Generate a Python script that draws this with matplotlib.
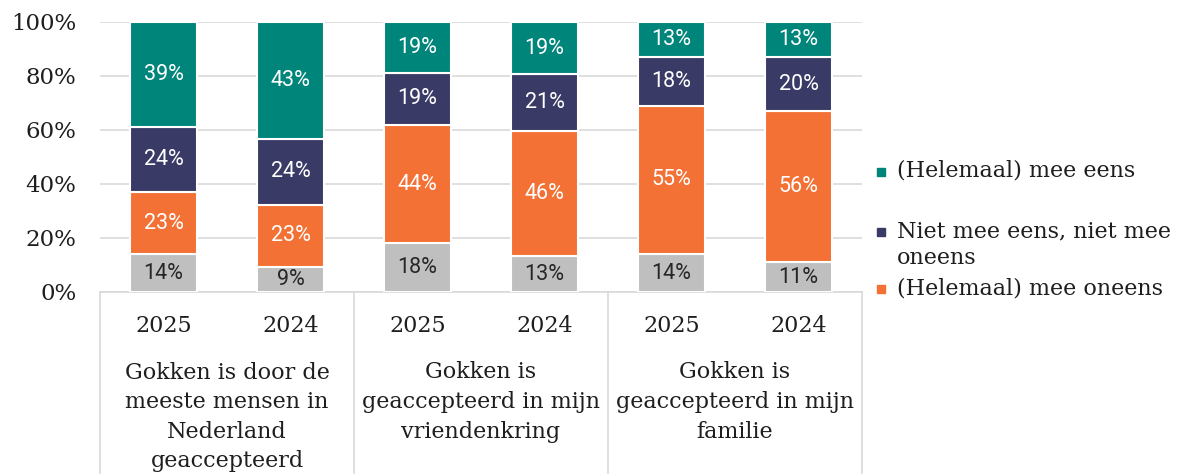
import matplotlib.pyplot as plt
from matplotlib.lines import Line2D
import numpy as np

# twee jaren per stelling
years = ["2025", "2024", "2025", "2024", "2025", "2024"]
statements = [
    "Gokken is door de\nmeeste mensen in\nNederland\ngeaccepteerd",
    "Gokken is\ngeaccepteerd in mijn\nvriendenkring",
    "Gokken is\ngeaccepteerd in mijn\nfamilie",
]

# percentages per antwoordcategorie (van onder naar boven gestapeld)
weet_niet = [14, 9.2, 18, 13.3, 14, 11]
oneens = [23, 23.1, 44, 46.2, 55, 56]
neutraal = [24, 24.3, 19, 21.1, 18, 20]
eens = [39, 43.4, 19, 19.4, 13, 13]

series = [
    ("Weet niet", weet_niet, "#bfbfbf", "#262626"),
    ("(Helemaal) mee oneens", oneens, "#f37134", "white"),
    ("Niet mee eens, niet mee\noneens", neutraal, "#393a66", "white"),
    ("(Helemaal) mee eens", eens, "#00857b", "white"),
]

serif = ["DejaVu Serif"]
sans = ["Roboto", "DejaVu Sans"]
txt = "#1e1e1e"

fig = plt.figure(figsize=(11.88, 4.74), dpi=100)
ax = fig.add_axes([100 / 1188, 1 - 292 / 474, 762 / 1188, 270 / 474])

x = np.arange(len(years))
bottom = np.zeros(len(years))
for name, vals, col, lab_col in series:
    vals = np.array(vals, dtype=float)
    bars = ax.bar(x, vals, 0.525, bottom=bottom, color=col,
                  edgecolor="white", linewidth=1.5, zorder=3)
    for b, v, y0 in zip(bars, vals, bottom):
        ax.text(b.get_x() + b.get_width() / 2, y0 + v / 2, f"{v:.0f}%",
                ha="center", va="center", color=lab_col, fontsize=15.5,
                family=sans, zorder=4)
    bottom += vals

ax.set_xlim(-0.5, 5.5)
ax.set_ylim(0, 100)
ax.set_yticks(np.arange(0, 101, 20))
ax.set_yticklabels([f"{t}%" for t in range(0, 101, 20)], family=serif,
                   fontsize=16.5, color=txt)
ax.tick_params(axis="y", length=0, pad=17)
ax.set_xticks([])
ax.yaxis.grid(True, color="#d9d9d9", linewidth=1.2, zorder=0)
for s in ["left", "right", "top"]:
    ax.spines[s].set_visible(False)
ax.spines["bottom"].set_color("#d9d9d9")
ax.spines["bottom"].set_linewidth(1.2)

# categorie-as met scheidingslijnen tussen de stellingen
trans = ax.get_xaxis_transform()
for sep in [-0.5, 1.5, 3.5, 5.5]:
    ax.plot([sep, sep], [0, -0.7], color="#d9d9d9", linewidth=1.2,
            transform=trans, clip_on=False)

for xi, yr in zip(x, years):
    ax.text(xi, -0.126, yr, ha="center", va="center", transform=trans,
            family=serif, fontsize=16, color=txt)

for i, st in enumerate(statements):
    yc = -0.463 if st.count("\n") == 3 else -0.407
    ax.text(2 * i + 0.5, yc, st, ha="center", va="center", transform=trans,
            family=serif, fontsize=16, color=txt, linespacing=1.45,
            multialignment="center")

# legenda
legend_items = [
    (series[3][0], series[3][2], 170, 171.5),
    (series[2][0], series[2][2], 245, 231.5),
    (series[1][0], series[1][2], 288, 288.5),
]
for label, col, ty, my in legend_items:
    fig.text(897 / 1188, 1 - ty / 474, label, ha="left", va="center",
             family=serif, fontsize=16, color=txt, linespacing=1.25)
    fig.add_artist(Line2D([881 / 1188], [1 - my / 474], marker="s",
                          markersize=6, color=col, linestyle="none",
                          transform=fig.transFigure))

fig.savefig("out.png", dpi=100)
